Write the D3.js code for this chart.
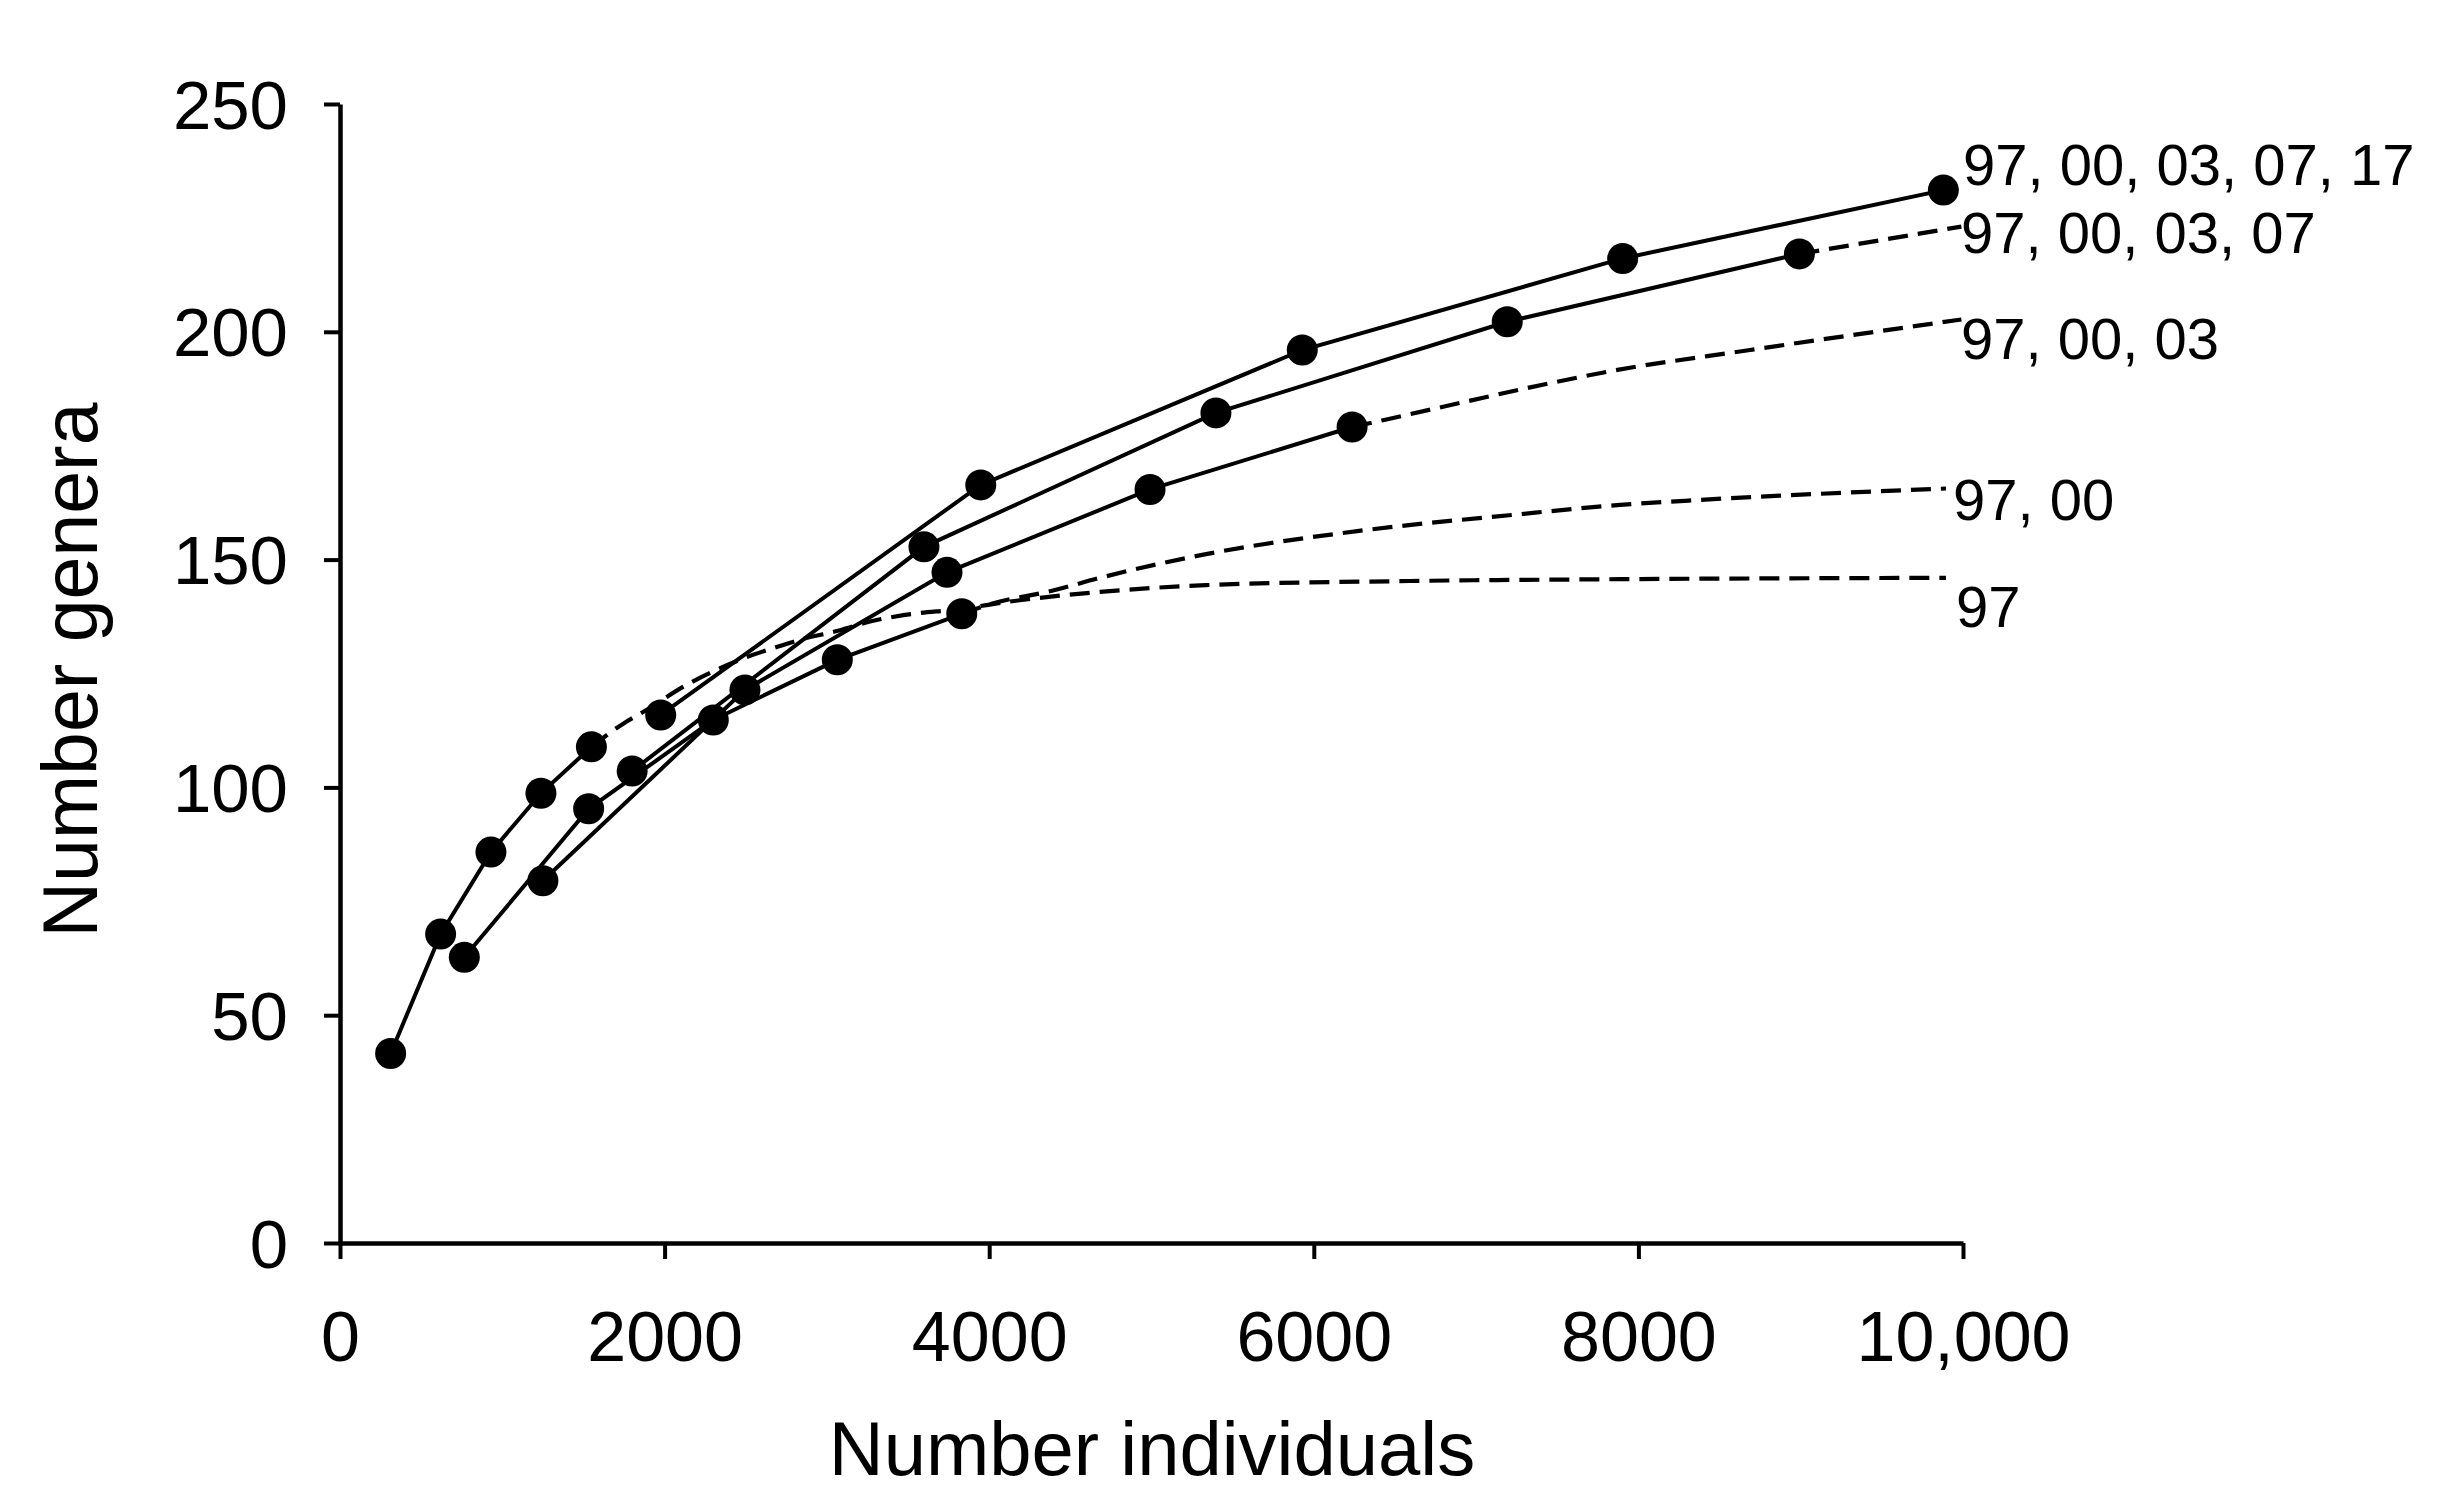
<!DOCTYPE html>
<html>
<head>
<meta charset="utf-8">
<script src="https://cdn.jsdelivr.net/npm/d3@7"></script>
<style>
  html, body { margin: 0; padding: 0; background: #fff; }
  svg { display: block; }
  text { font-family: "Liberation Sans", Arial, sans-serif; fill: #000; }
</style>
</head>
<body>
<script>
// ---------- data ----------
const xTickValues = [0, 2000, 4000, 6000, 8000, 10000];
const xTickLabels = ["0", "2000", "4000", "6000", "8000", "10,000"];
const yTickValues = [0, 50, 100, 150, 200, 250];

const seriesNames = ["97", "97, 00", "97, 00, 03", "97, 00, 03, 07", "97, 00, 03, 07, 17"];

// observed (solid, with dots): [individuals, genera]
const obs97          = [[312, 41.6], [620, 67.8], [930, 85.8], [1238, 98.7], [1549, 108.9]];
const obs9700        = [[766, 62.7], [1532, 95.3], [2300, 114.8], [3064, 128.0], [3831, 138.1]];
const obs970003      = [[1250, 79.5], [2495, 121.4], [3740, 147.2], [4991, 165.4], [6236, 179.1]];
const obs97000307    = [[1800, 103.6], [3598, 152.8], [5397, 182.2], [7192, 202.2], [8992, 217.1]];
const obs9700030717  = [[1976, 115.9], [3948, 166.4], [5929, 196.0], [7903, 216.1], [9879, 231.1]];

// extrapolated (dashed)
const ext97       = [[1549, 108.9], [1750, 114.1], [1870, 116.6], [2130, 122.4], [2320, 125.8], [2506, 128.6],
                     [2700, 130.9], [2834, 132.4], [3081, 134.5], [3266, 136.4], [3471, 137.8], [3831, 139.2],
                     [4128, 140.8], [4683, 142.9], [5336, 144.4], [6593, 145.3], [7887, 145.7], [9895, 146.0]];
const ext9700     = [[3831, 138.1], [4025, 140.4], [4393, 143.2], [4683, 146.0], [5336, 151.2], [6279, 156.3],
                     [7221, 159.8], [7887, 162.0], [8380, 163.1], [9895, 165.6]];
const ext970003   = [[6236, 179.1], [6427, 180.6], [7455, 188.7], [7804, 191.2], [8688, 196.0], [9990, 202.7]];
const ext97000307 = [[8992, 217.1], [9990, 223.1]];

// end-label anchors (data units)
const labelX = [9957, 9938, 9988, 9988, 10000];
const labelY = [135.1, 158.7, 194.0, 217.4, 232.2];

// ---------- chart ----------
const W = 2445, H = 1512;
const svg = d3.select("body").append("svg").attr("width", W).attr("height", H);
svg.append("rect").attr("width", W).attr("height", H).attr("fill", "#fff");

const x = d3.scaleLinear().domain([0, 10000]).range([340, 1963]);
const y = d3.scaleLinear().domain([0, 250]).range([1243, 104]);

// axes
const gy = svg.append("g").attr("transform", `translate(${x(0)},0)`)
  .call(d3.axisLeft(y).tickValues(yTickValues).tickSize(16).tickSizeOuter(0).tickPadding(36).tickFormat(d3.format("d")));
const gx = svg.append("g").attr("transform", `translate(0,${y(0)})`)
  .call(d3.axisBottom(x).tickValues(xTickValues).tickSize(16).tickSizeOuter(0).tickPadding(52)
        .tickFormat((d, i) => xTickLabels[i]));

[gy, gx].forEach(g => {
  g.attr("font-family", null).attr("font-size", null);
  g.select(".domain").attr("stroke", "#000").attr("stroke-width", 4.5);
  g.selectAll(".tick line").attr("stroke", "#000").attr("stroke-width", 4);
  g.selectAll(".tick text").attr("fill", "#000");
});
gy.selectAll(".tick text").style("font-size", "69px").attr("dy", "0.35em");
gx.selectAll(".tick text").style("font-size", "70px");

// axis titles
svg.append("text")
  .attr("transform", `translate(97,670) rotate(-90)`)
  .attr("text-anchor", "middle")
  .style("font-size", "77px")
  .text("Number genera");
svg.append("text")
  .attr("x", 1152).attr("y", 1475)
  .attr("text-anchor", "middle")
  .style("font-size", "76px")
  .text("Number individuals");

// lines
const lineLin = d3.line().x(d => x(d[0])).y(d => y(d[1]));
const lineCurve = d3.line().x(d => x(d[0])).y(d => y(d[1])).curve(d3.curveMonotoneX);

const extSeries = [ext97, ext9700, ext970003, ext97000307];
const obsSeries = [obs97, obs9700, obs970003, obs97000307, obs9700030717];

svg.append("g").selectAll("path.ext").data(extSeries).join("path")
  .attr("class", "ext")
  .attr("d", lineCurve)
  .attr("fill", "none")
  .attr("stroke", "#000")
  .attr("stroke-width", 4.2)
  .attr("stroke-dasharray", "20,10");

svg.append("g").selectAll("path.obs").data(obsSeries).join("path")
  .attr("class", "obs")
  .attr("d", lineLin)
  .attr("fill", "none")
  .attr("stroke", "#000")
  .attr("stroke-width", 4);

// dots
svg.append("g").selectAll("g").data(obsSeries).join("g")
  .selectAll("circle").data(d => d).join("circle")
  .attr("cx", d => x(d[0]))
  .attr("cy", d => y(d[1]))
  .attr("r", 15.5)
  .attr("fill", "#000");

// end labels
svg.append("g").selectAll("text").data(seriesNames).join("text")
  .attr("x", (d, i) => x(labelX[i]))
  .attr("y", (d, i) => y(labelY[i]))
  .style("font-size", "58px")
  .text(d => d);
</script>
</body>
</html>
